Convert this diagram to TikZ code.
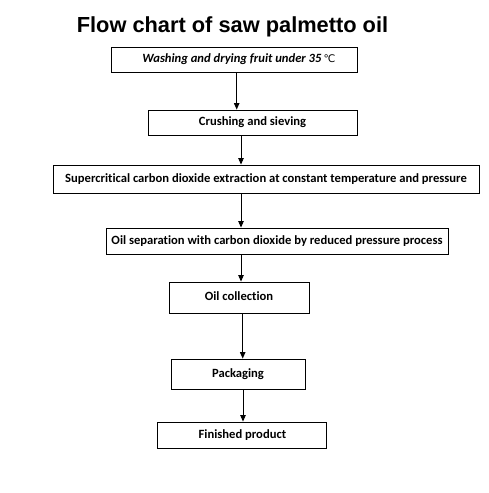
\documentclass[tikz,border=0pt]{standalone}
\usepackage{fontspec}
\setmainfont{Carlito}[Ligatures={NoCommon,TeX}]
\newfontfamily\titlefont{Liberation Sans}
\newfontfamily\symfont{DejaVu Sans}
\usetikzlibrary{arrows.meta}
\begin{document}
\begin{tikzpicture}[x=1pt,y=-1pt,
  stepbox/.style={draw=black,line width=0.9pt,inner sep=0pt,font=\fontsize{12.6}{14}\selectfont\bfseries},
  arr/.style={-{Triangle[length=6.5pt,width=5.5pt]},line width=0.9pt}]
\useasboundingbox[fill=white] (0,0) rectangle (488,493);
\node[font=\titlefont\fontsize{21.8}{24}\selectfont\bfseries] (title) at (232.5,27) {Flow chart of saw palmetto oil};
\node[stepbox,minimum width=246pt,minimum height=25pt] (b1) at (234.9,59.5) {\hspace*{8pt}\itshape Washing and drying fruit under 35\,{\symfont\fontsize{10.5}{12}\selectfont\mdseries\upshape ℃}};
\node[stepbox,minimum width=209pt,minimum height=25pt] (b2) at (252.5,122.5) {Crushing and sieving};
\node[stepbox,minimum width=426pt,minimum height=28pt] (b3) at (266,179) {Supercritical carbon dioxide extraction at constant temperature and pressure};
\node[stepbox,minimum width=342pt,minimum height=26pt] (b4) at (277,241) {Oil separation with carbon dioxide by reduced pressure process};
\node[stepbox,minimum width=140pt,minimum height=31pt] (b5) at (239,297.5) {\raisebox{2pt}{Oil collection}};
\node[stepbox,minimum width=134pt,minimum height=30pt] (b6) at (238,374) {\raisebox{1.5pt}{Packaging}};
\node[stepbox,minimum width=169pt,minimum height=26pt] (b7) at (242.4,435) {Finished product};
\coordinate (x1) at (236.7,0);
\coordinate (x2) at (241,0);
\coordinate (x3) at (241,0);
\coordinate (x4) at (242.7,0);
\coordinate (x5) at (243,0);
\draw[arr] (b1.south -| x1) -- (b2.north -| x1);
\draw[arr] (b2.south -| x2) -- (b3.north -| x2);
\draw[arr] (b3.south -| x3) -- (b4.north -| x3);
\draw[arr] (b4.south -| x3) -- (b5.north -| x3);
\draw[arr] (b5.south -| x4) -- (b6.north -| x4);
\draw[arr] (b6.south -| x5) -- (b7.north -| x5);
\end{tikzpicture}
\end{document}
